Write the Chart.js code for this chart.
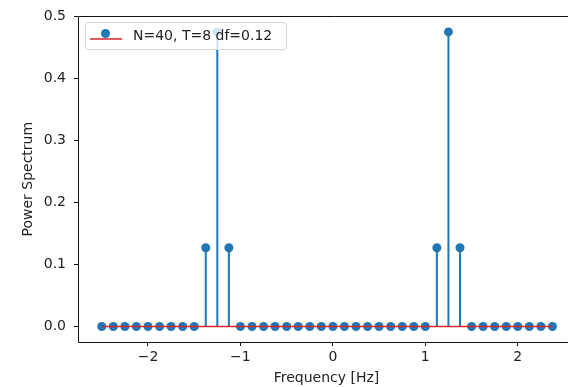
<!DOCTYPE html>
<html>
<head>
<meta charset="utf-8">
<script src="https://cdn.jsdelivr.net/npm/chart.js@4"></script>
<style>
  html, body { margin: 0; padding: 0; background: #fff; overflow: hidden; }
  canvas { display: block; }
</style>
</head>
<body>
<canvas id="spec" width="590" height="387"></canvas>
<script>
// frequency bins (df = 0.125)
const freqs = [-2.5, -2.375, -2.25, -2.125, -2, -1.875, -1.75, -1.625, -1.5, -1.375,
	-1.25, -1.125, -1, -0.875, -0.75, -0.625, -0.5, -0.375, -0.25, -0.125,
	0, 0.125, 0.25, 0.375, 0.5, 0.625, 0.75, 0.875, 1, 1.125,
	1.25, 1.375, 1.5, 1.625, 1.75, 1.875, 2, 2.125, 2.25, 2.375];
const power = [0, 0, 0, 0, 0, 0, 0, 0, 0, 0.127,
	0.475, 0.127, 0, 0, 0, 0, 0, 0, 0, 0,
	0, 0, 0, 0, 0, 0, 0, 0, 0, 0.127,
	0.475, 0.127, 0, 0, 0, 0, 0, 0, 0, 0];
const xTicks = [-2, -1, 0, 1, 2];
const yTicks = [0, 0.1, 0.2, 0.3, 0.4, 0.5];
const legendLabel = "N=40, T=8 df=0.12";

const BLUE = "#1f77b4";
const RED = "#d62728";
const FONT = "'DejaVu Sans', sans-serif";

// stems: vertical segments separated by gaps
const stemData = [];
freqs.forEach((f, i) => {
	stemData.push({x: f, y: 0}, {x: f, y: power[i]}, {x: f, y: null});
});
const markerData = freqs.map((f, i) => ({x: f, y: power[i]}));
const baseData = [{x: freqs[0], y: 0}, {x: freqs[freqs.length - 1], y: 0}];

// the original figure is cropped on the right, so no right spine
const frameAndLegend = {
	id: "frameAndLegend",
	afterDraw(chart) {
		const {ctx, chartArea: a, width} = chart;
		const l = Math.round(a.left) + 0.5, t = Math.round(a.top) + 0.5, b = Math.round(a.bottom) + 0.5;
		ctx.save();
		ctx.strokeStyle = "#111";
		ctx.lineWidth = 1;
		ctx.beginPath();
		ctx.moveTo(width, t);
		ctx.lineTo(l, t);
		ctx.lineTo(l, b);
		ctx.lineTo(width, b);
		ctx.stroke();

		// legend box
		ctx.beginPath();
		ctx.roundRect(85.5, 22.5, 201, 27, 3);
		ctx.fillStyle = "rgba(255,255,255,0.8)";
		ctx.fill();
		ctx.strokeStyle = "#d6d6d6";
		ctx.stroke();

		ctx.beginPath();
		ctx.moveTo(90, 39);
		ctx.lineTo(122, 39);
		ctx.strokeStyle = RED;
		ctx.lineWidth = 1.5;
		ctx.stroke();

		ctx.beginPath();
		ctx.arc(105.5, 33.5, 4.5, 0, Math.PI * 2);
		ctx.fillStyle = BLUE;
		ctx.fill();

		ctx.font = "14px " + FONT;
		ctx.fillStyle = "#222";
		ctx.textBaseline = "middle";
		ctx.fillText(legendLabel, 133, 36);
		ctx.restore();
	}
};

new Chart(document.getElementById("spec"), {
	type: "scatter",
	data: {
		datasets: [
			{
				label: "baseline",
				data: baseData,
				showLine: true,
				borderColor: RED,
				borderWidth: 1.5,
				pointRadius: 0,
				order: 0
			},
			{
				label: legendLabel,
				data: markerData,
				pointRadius: 4.5,
				backgroundColor: BLUE,
				borderWidth: 0,
				order: 1
			},
			{
				label: "stems",
				data: stemData,
				showLine: true,
				spanGaps: false,
				borderColor: BLUE,
				borderWidth: 2,
				pointRadius: 0,
				order: 2
			}
		]
	},
	options: {
		responsive: false,
		animation: false,
		layout: {padding: {top: 15, right: 15, left: 0, bottom: 0}},
		plugins: {
			legend: {display: false},
			tooltip: {enabled: false}
		},
		scales: {
			x: {
				type: "linear",
				min: -2.757,
				max: 2.619,
				afterBuildTicks: s => { s.ticks = xTicks.map(v => ({value: v})); },
				afterFit: s => { s.height = 45; },
				border: {display: false},
				grid: {drawOnChartArea: false, tickLength: 4, color: "#111"},
				ticks: {
					color: "#222",
					font: {family: FONT, size: 14},
					padding: 3,
					maxRotation: 0,
					callback: v => v < 0 ? "\u2212" + Math.abs(v) : String(v)
				},
				title: {
					display: true,
					text: "Frequency [Hz]",
					color: "#222",
					font: {family: FONT, size: 14},
					padding: {top: 0, bottom: 0}
				}
			},
			y: {
				type: "linear",
				min: -0.025,
				max: 0.5,
				afterBuildTicks: s => { s.ticks = yTicks.map(v => ({value: v})); },
				afterFit: s => { s.width = 78; },
				border: {display: false},
				grid: {drawOnChartArea: false, tickLength: 4, color: "#111"},
				ticks: {
					color: "#222",
					font: {family: FONT, size: 14},
					padding: 8,
					callback: v => v.toFixed(1)
				},
				title: {
					display: true,
					text: "Power Spectrum",
					color: "#222",
					font: {family: FONT, size: 14},
					padding: {top: 20, bottom: 0}
				}
			}
		}
	},
	plugins: [frameAndLegend]
});
</script>
</body>
</html>
